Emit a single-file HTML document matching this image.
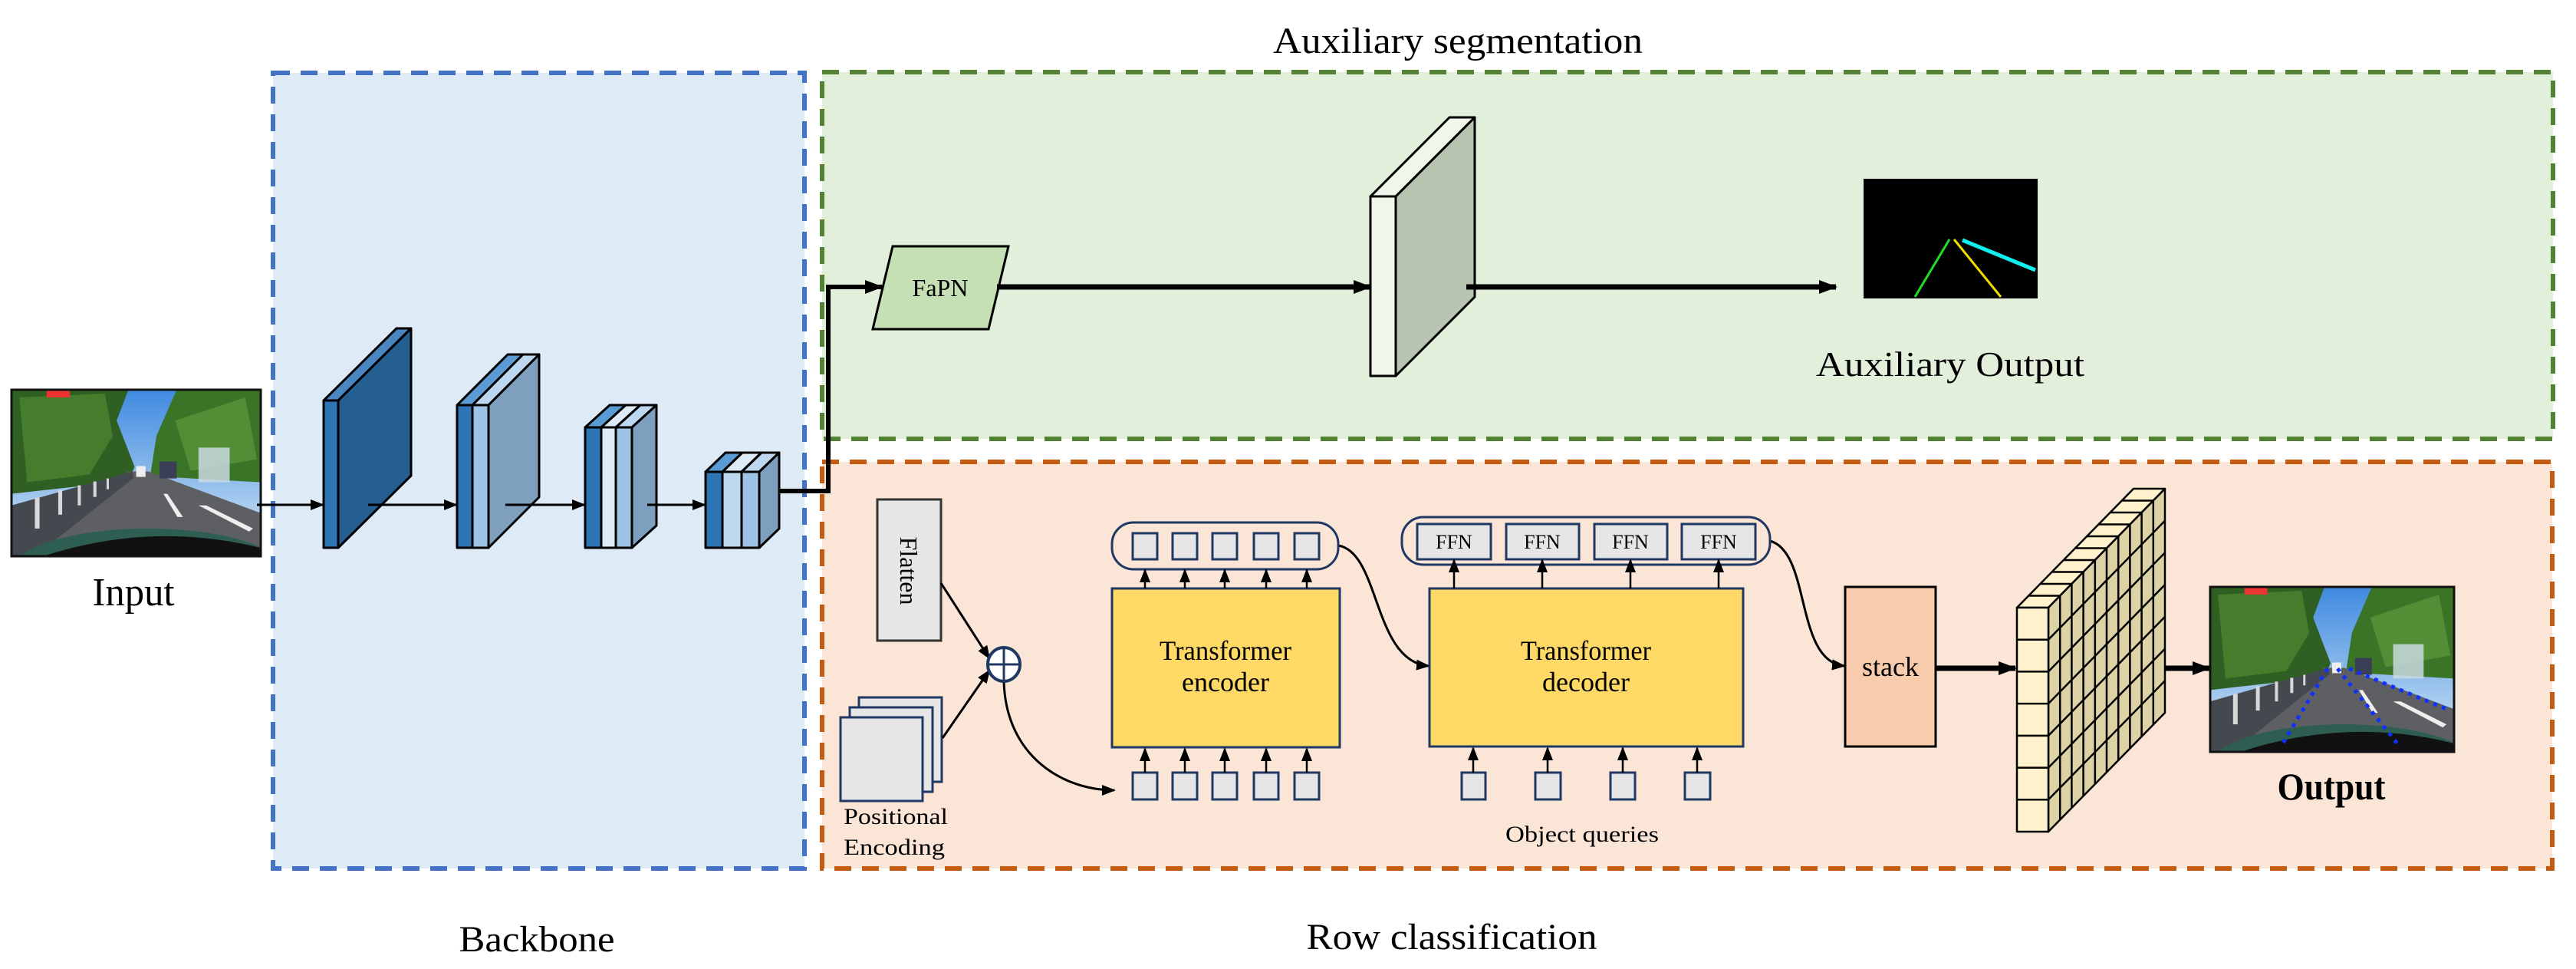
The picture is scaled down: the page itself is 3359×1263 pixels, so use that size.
<!DOCTYPE html>
<html><head><meta charset="utf-8"><style>html,body{margin:0;padding:0;background:#fff}svg{display:block}</style></head><body>
<svg width="3359" height="1263" viewBox="0 0 3359 1263" xmlns="http://www.w3.org/2000/svg" font-family="'Liberation Serif', 'Times New Roman', serif">
<defs>
<marker id="ah" markerUnits="userSpaceOnUse" markerWidth="24" markerHeight="18" refX="22" refY="9" orient="auto"><path d="M0,0 L24,9 L0,18 z" fill="#000"/></marker>
<marker id="ahs" markerUnits="userSpaceOnUse" markerWidth="18" markerHeight="14" refX="16" refY="7" orient="auto"><path d="M0,0 L18,7 L0,14 z" fill="#000"/></marker>
<linearGradient id="sky" x1="0" y1="0" x2="0" y2="1"><stop offset="0" stop-color="#3f8ae0"/><stop offset="1" stop-color="#d6e9f5"/></linearGradient>
<clipPath id="pc"><rect x="0" y="0" width="320" height="216"/></clipPath>
<g id="photo" clip-path="url(#pc)">
<rect x="0" y="0" width="320" height="216" fill="url(#sky)"/>
<polygon points="0,0 150,0 135,40 158,100 150,118 0,135" fill="#2f5f22"/>
<polygon points="10,10 120,5 130,60 100,110 20,120" fill="#4e8a32" opacity="0.7"/>
<polygon points="178,112 186,60 212,0 320,0 320,120" fill="#3a7426"/>
<polygon points="210,40 300,10 315,90 230,105" fill="#5e9a3e" opacity="0.7"/>
<polygon points="0,216 150,106 176,106 320,160 320,216" fill="#5e5f63"/>
<polygon points="0,150 155,106 157,114 30,216 0,216" fill="#44484f"/>
<g fill="#d8d8d8"><rect x="30" y="140" width="6" height="40"/><rect x="60" y="130" width="5" height="32"/><rect x="85" y="124" width="4" height="26"/><rect x="105" y="119" width="4" height="20"/><rect x="122" y="115" width="3" height="14"/></g>
<polygon points="195,135 200,135 220,165 213,165" fill="#eee"/>
<polygon points="240,150 250,150 310,180 305,184" fill="#eee"/>
<rect x="190" y="93" width="22" height="22" fill="#3a3f55"/>
<rect x="160" y="99" width="12" height="14" fill="#eee"/>
<rect x="240" y="75" width="40" height="45" fill="#c9d9e0" opacity="0.85"/>
<ellipse cx="175" cy="235" rx="175" ry="55" fill="#2e5e52"/>
<path d="M40,216 Q180,170 320,205 L320,216 z" fill="#111"/>
<rect x="45" y="0" width="30" height="10" fill="#e33"/>
</g>
</defs>

<rect x="356" y="95" width="693" height="1037" fill="#deebf7" stroke="#4472c4" stroke-width="6" stroke-dasharray="22,14"/>
<rect x="1072" y="94" width="2257" height="478" fill="#e2efda" stroke="#548235" stroke-width="6" stroke-dasharray="22,14"/>
<rect x="1072" y="602" width="2256" height="530" fill="#fbe5d6" stroke="#c55a11" stroke-width="6" stroke-dasharray="22,14"/>

<text x="1901" y="69" font-size="48" text-anchor="middle" textLength="482" lengthAdjust="spacingAndGlyphs">Auxiliary segmentation</text>
<text x="174" y="789" font-size="52" text-anchor="middle" textLength="107" lengthAdjust="spacingAndGlyphs">Input</text>
<text x="700" y="1240" font-size="48" text-anchor="middle" textLength="203" lengthAdjust="spacingAndGlyphs">Backbone</text>
<text x="1893" y="1237" font-size="48" text-anchor="middle" textLength="379" lengthAdjust="spacingAndGlyphs">Row classification</text>
<text x="2543" y="490" font-size="46" text-anchor="middle" textLength="350" lengthAdjust="spacingAndGlyphs">Auxiliary Output</text>
<text x="3040" y="1042" font-size="50" font-weight="bold" text-anchor="middle" textLength="141" lengthAdjust="spacingAndGlyphs">Output</text>

<g transform="translate(15,508) scale(1.016,1.005)"><use href="#photo"/></g>
<rect x="15" y="508" width="325" height="217" fill="none" stroke="#111" stroke-width="3"/>

<g stroke="#000" stroke-width="3" stroke-linejoin="round">
<polygon points="422,522 441,522 536,428 517,428" fill="#4a86c0"/>
<polygon points="441,522 536,428 536,620 441,714" fill="#255e91"/>
<rect x="422" y="522" width="19" height="192" fill="#2e75b6"/>
<polygon points="596,528 616,528 682,462 662,462" fill="#5b9bd5"/>
<polygon points="616,528 637,528 703,462 682,462" fill="#bdd7ee"/>
<polygon points="637,528 703,462 703,648 637,714" fill="#7f9fbf"/>
<rect x="596" y="528" width="20" height="186" fill="#2e75b6"/>
<rect x="616" y="528" width="21" height="186" fill="#9dc3e6"/>
<polygon points="763,557 784,557 816,528 795,528" fill="#5b9bd5"/>
<polygon points="784,557 803,557 835,528 816,528" fill="#deebf7"/>
<polygon points="803,557 824,557 856,528 835,528" fill="#bdd7ee"/>
<polygon points="824,557 856,528 856,685 824,714" fill="#7f9fbf"/>
<rect x="763" y="557" width="21" height="157" fill="#2e75b6"/>
<rect x="784" y="557" width="19" height="157" fill="#deebf7"/>
<rect x="803" y="557" width="21" height="157" fill="#9dc3e6"/>
<polygon points="920,615 942,615 968,590 946,590" fill="#5b9bd5"/>
<polygon points="942,615 967,615 993,590 968,590" fill="#deebf7"/>
<polygon points="967,615 990,615 1016,590 993,590" fill="#bdd7ee"/>
<polygon points="990,615 1016,590 1016,689 990,714" fill="#7f9fbf"/>
<rect x="920" y="615" width="22" height="99" fill="#2e75b6"/>
<rect x="942" y="615" width="25" height="99" fill="#bdd7ee"/>
<rect x="967" y="615" width="23" height="99" fill="#9dc3e6"/>
</g>
<g stroke="#000" stroke-width="3" fill="none" marker-end="url(#ahs)">
<line x1="335" y1="658" x2="421" y2="658"/>
<line x1="480" y1="658" x2="595" y2="658"/>
<line x1="659" y1="658" x2="762" y2="658"/>
<line x1="844" y1="658" x2="919" y2="658"/>
</g>

<polyline points="1017,640 1080,640 1080,374 1150,374" fill="none" stroke="#000" stroke-width="6" marker-end="url(#ah)"/>

<polygon points="1164,321 1315,321 1289,429 1138,429" fill="#c5e0b4" stroke="#000" stroke-width="3"/>
<text x="1226" y="386" font-size="32" text-anchor="middle">FaPN</text>
<line x1="1300" y1="374" x2="1787" y2="374" stroke="#000" stroke-width="7" marker-end="url(#ah)"/>
<g stroke="#000" stroke-width="3" stroke-linejoin="round">
<polygon points="1787,256 1820,256 1923,153 1890,153" fill="#f0f7ea"/>
<polygon points="1820,256 1923,153 1923,387 1820,490" fill="#b7c4af"/>
<rect x="1787" y="256" width="33" height="234" fill="#f0f7ea"/>
</g>
<line x1="1912" y1="374" x2="2394" y2="374" stroke="#000" stroke-width="7" marker-end="url(#ah)"/>
<rect x="2430" y="233" width="227" height="156" fill="#000"/>
<line x1="2542" y1="312" x2="2497" y2="387" stroke="#22dd22" stroke-width="3"/>
<line x1="2548" y1="312" x2="2609" y2="387" stroke="#eedd00" stroke-width="3"/>
<line x1="2559" y1="313" x2="2654" y2="352" stroke="#11eeee" stroke-width="5"/>

<rect x="1144" y="651" width="83" height="184" fill="#e6e6e6" stroke="#333" stroke-width="3"/>
<text transform="translate(1174,744) rotate(90)" font-size="32" text-anchor="middle">Flatten</text>
<g fill="#e6e6e6" stroke="#1f3864" stroke-width="3">
<rect x="1120" y="909" width="108" height="110"/>
<rect x="1108" y="922" width="108" height="110"/>
<rect x="1096" y="935" width="107" height="109"/>
</g>
<text x="1100" y="1074" font-size="30" textLength="136" lengthAdjust="spacingAndGlyphs">Positional</text>
<text x="1100" y="1114" font-size="30" textLength="132" lengthAdjust="spacingAndGlyphs">Encoding</text>
<g stroke="#000" stroke-width="3" fill="none" marker-end="url(#ahs)">
<line x1="1227" y1="760" x2="1290" y2="858"/>
<line x1="1229" y1="962" x2="1290" y2="874"/>
<path d="M1309,889 C1312,985 1385,1030 1453,1030"/>
<path d="M1745,711 C1800,720 1790,862 1863,868"/>
<path d="M2308,705 C2362,720 2340,862 2405,868"/>
</g>
<ellipse cx="1309" cy="866" rx="21" ry="22" fill="#fff" stroke="#1f3864" stroke-width="4"/>
<line x1="1288" y1="866" x2="1330" y2="866" stroke="#1f3864" stroke-width="3"/>
<line x1="1309" y1="844" x2="1309" y2="888" stroke="#1f3864" stroke-width="3"/>

<rect x="1450" y="681" width="295" height="61" rx="28" fill="#fbe5d6" stroke="#1f3864" stroke-width="3"/>
<g fill="#e6e6e6" stroke="#1f3864" stroke-width="3">
<rect x="1477" y="695" width="32" height="34"/><rect x="1529" y="695" width="32" height="34"/><rect x="1581" y="695" width="32" height="34"/><rect x="1635" y="695" width="32" height="34"/><rect x="1688" y="695" width="32" height="34"/>
<rect x="1477" y="1007" width="32" height="35"/><rect x="1529" y="1007" width="32" height="35"/><rect x="1581" y="1007" width="32" height="35"/><rect x="1635" y="1007" width="32" height="35"/><rect x="1688" y="1007" width="32" height="35"/>
</g>
<rect x="1450" y="767" width="297" height="207" fill="#ffd966" stroke="#1f3864" stroke-width="3"/>
<text x="1598" y="860" font-size="36" text-anchor="middle" textLength="172" lengthAdjust="spacingAndGlyphs">Transformer</text>
<text x="1598" y="901" font-size="36" text-anchor="middle">encoder</text>
<g stroke="#000" stroke-width="2.5" marker-end="url(#ahs)">
<line x1="1493" y1="1007" x2="1493" y2="976"/><line x1="1545" y1="1007" x2="1545" y2="976"/><line x1="1597" y1="1007" x2="1597" y2="976"/><line x1="1651" y1="1007" x2="1651" y2="976"/><line x1="1704" y1="1007" x2="1704" y2="976"/>
<line x1="1493" y1="767" x2="1493" y2="743"/><line x1="1545" y1="767" x2="1545" y2="743"/><line x1="1597" y1="767" x2="1597" y2="743"/><line x1="1651" y1="767" x2="1651" y2="743"/><line x1="1704" y1="767" x2="1704" y2="743"/>
</g>

<rect x="1828" y="674" width="480" height="62" rx="28" fill="#fbe5d6" stroke="#1f3864" stroke-width="3"/>
<g fill="#e6e6e6" stroke="#1f3864" stroke-width="3">
<rect x="1848" y="683" width="96" height="46"/><rect x="1964" y="683" width="95" height="46"/><rect x="2079" y="683" width="95" height="46"/><rect x="2193" y="683" width="96" height="46"/>
<rect x="1906" y="1007" width="31" height="35"/><rect x="2002" y="1007" width="33" height="35"/><rect x="2100" y="1007" width="32" height="35"/><rect x="2197" y="1007" width="33" height="35"/>
</g>
<g font-size="26" text-anchor="middle">
<text x="1896" y="715">FFN</text><text x="2011" y="715">FFN</text><text x="2126" y="715">FFN</text><text x="2241" y="715">FFN</text>
</g>
<rect x="1864" y="767" width="409" height="206" fill="#ffd966" stroke="#1f3864" stroke-width="3"/>
<text x="2068" y="860" font-size="36" text-anchor="middle" textLength="170" lengthAdjust="spacingAndGlyphs">Transformer</text>
<text x="2068" y="901" font-size="36" text-anchor="middle">decoder</text>
<g stroke="#000" stroke-width="2.5" marker-end="url(#ahs)">
<line x1="1896" y1="767" x2="1896" y2="730"/><line x1="2011" y1="767" x2="2011" y2="730"/><line x1="2126" y1="767" x2="2126" y2="730"/><line x1="2241" y1="767" x2="2241" y2="730"/>
<line x1="1921" y1="1007" x2="1921" y2="975"/><line x1="2018" y1="1007" x2="2018" y2="975"/><line x1="2116" y1="1007" x2="2116" y2="975"/><line x1="2213" y1="1007" x2="2213" y2="975"/>
</g>
<text x="2063" y="1097" font-size="30" text-anchor="middle" textLength="200" lengthAdjust="spacingAndGlyphs">Object queries</text>

<rect x="2406" y="765" width="118" height="208" fill="#f8cbad" stroke="#000" stroke-width="3"/>
<text x="2465" y="881" font-size="36" text-anchor="middle">stack</text>
<line x1="2524" y1="871" x2="2628" y2="871" stroke="#000" stroke-width="7" marker-end="url(#ah)"/>

<g stroke="#000" stroke-width="2.5" stroke-linejoin="round">
<polygon points="2630,792 2671,792 2823,637 2782,637" fill="#fff2cc"/>
<polygon points="2671,792 2823,637 2823,929 2671,1084" fill="#ddd1a6"/>
<rect x="2630" y="792" width="41" height="292" fill="#fff2cc"/>
</g>
<g stroke="#000" stroke-width="2.5">
<line x1="2645.2" y1="776.5" x2="2686.2" y2="776.5"/><line x1="2660.4" y1="761" x2="2701.4" y2="761"/><line x1="2675.6" y1="745.5" x2="2716.6" y2="745.5"/><line x1="2690.8" y1="730" x2="2731.8" y2="730"/><line x1="2706" y1="714.5" x2="2747" y2="714.5"/><line x1="2721.2" y1="699" x2="2762.2" y2="699"/><line x1="2736.4" y1="683.5" x2="2777.4" y2="683.5"/><line x1="2751.6" y1="668" x2="2792.6" y2="668"/><line x1="2766.8" y1="652.5" x2="2807.8" y2="652.5"/>
<line x1="2686.2" y1="776.5" x2="2686.2" y2="1068.5"/><line x1="2701.4" y1="761" x2="2701.4" y2="1053"/><line x1="2716.6" y1="745.5" x2="2716.6" y2="1037.5"/><line x1="2731.8" y1="730" x2="2731.8" y2="1022"/><line x1="2747" y1="714.5" x2="2747" y2="1006.5"/><line x1="2762.2" y1="699" x2="2762.2" y2="991"/><line x1="2777.4" y1="683.5" x2="2777.4" y2="975.5"/><line x1="2792.6" y1="668" x2="2792.6" y2="960"/><line x1="2807.8" y1="652.5" x2="2807.8" y2="944.5"/>
<line x1="2630" y1="833.7" x2="2671" y2="833.7"/><line x1="2630" y1="875.4" x2="2671" y2="875.4"/><line x1="2630" y1="917.1" x2="2671" y2="917.1"/><line x1="2630" y1="958.9" x2="2671" y2="958.9"/><line x1="2630" y1="1000.6" x2="2671" y2="1000.6"/><line x1="2630" y1="1042.3" x2="2671" y2="1042.3"/>
<line x1="2671" y1="833.7" x2="2823" y2="678.7"/><line x1="2671" y1="875.4" x2="2823" y2="720.4"/><line x1="2671" y1="917.1" x2="2823" y2="762.1"/><line x1="2671" y1="958.9" x2="2823" y2="803.9"/><line x1="2671" y1="1000.6" x2="2823" y2="845.6"/><line x1="2671" y1="1042.3" x2="2823" y2="887.3"/>
</g>
<line x1="2823" y1="871" x2="2881" y2="871" stroke="#000" stroke-width="7" marker-end="url(#ah)"/>

<g transform="translate(2882,765) scale(0.994,0.995)"><use href="#photo"/>
<g stroke="#1030ff" stroke-width="5" stroke-dasharray="5,7" fill="none">
<line x1="154" y1="107" x2="94" y2="207"/>
<line x1="167" y1="107" x2="247" y2="207"/>
<line x1="182" y1="107" x2="310" y2="160"/>
</g></g>
<rect x="2882" y="765" width="318" height="215" fill="none" stroke="#111" stroke-width="3"/>
</svg>
</body></html>
